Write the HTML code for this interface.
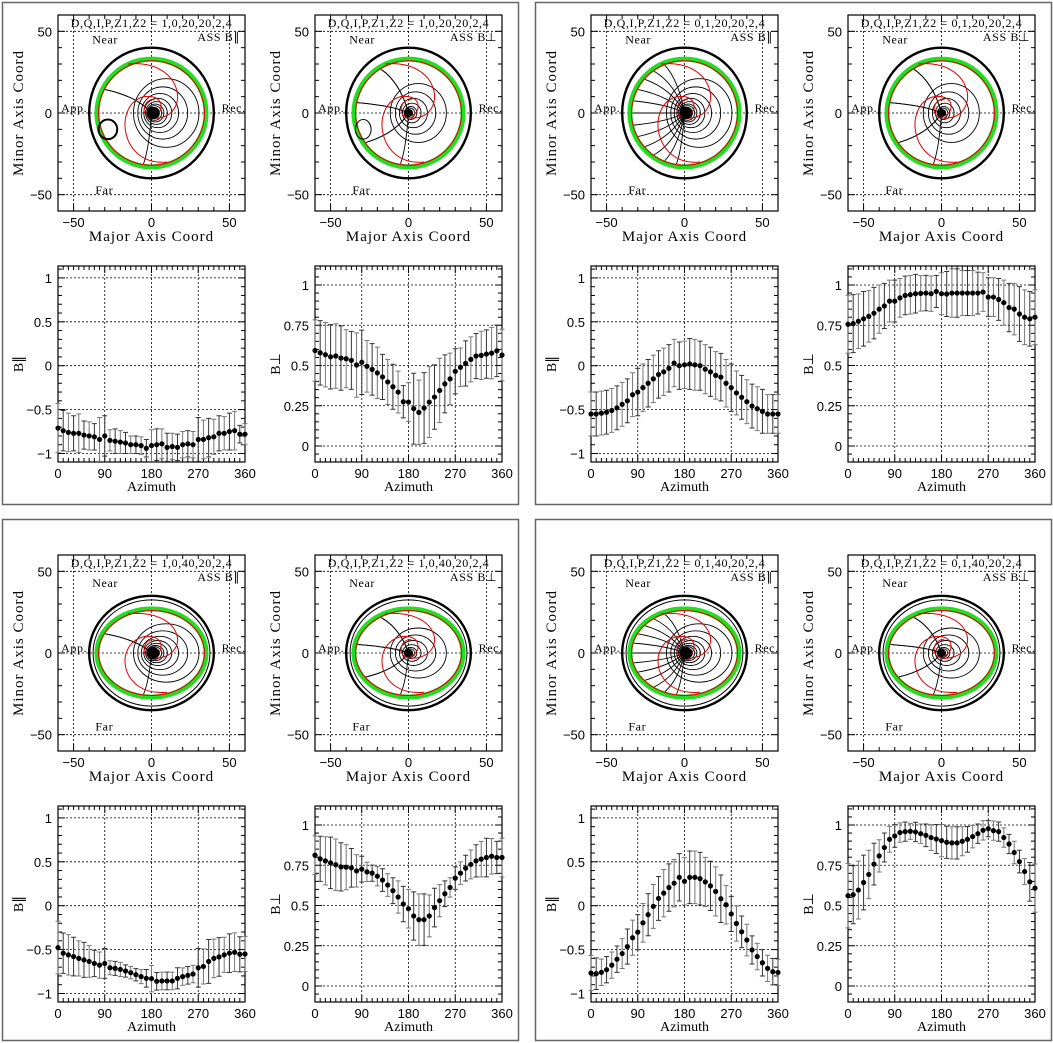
<!DOCTYPE html>
<html><head><meta charset="utf-8">
<style>
html,body{margin:0;padding:0;background:#fff;}
svg{display:block;font-family:"Liberation Sans",sans-serif;}
.tk{font-size:13px;fill:#000;}
.lb{font-family:"Liberation Serif",serif;font-size:14px;fill:#000;}
.lbw{font-family:"Liberation Serif",serif;font-size:15px;fill:#000;letter-spacing:1px;}
.sm{font-family:"Liberation Serif",serif;font-size:12px;fill:#000;}
.hd{font-family:"Liberation Serif",serif;font-size:12px;fill:#000;letter-spacing:0.6px;}
</style></head>
<body>
<svg id="fig" width="1053" height="1043" viewBox="0 0 1053 1043" xmlns="http://www.w3.org/2000/svg"></svg>
<script>
// ---- data ----
const azimuths = [0,10,20,30,40,50,60,70,80,90,100,110,120,130,140,150,160,170,180,190,200,210,220,230,240,250,260,270,280,290,300,310,320,330,340,350,360];
const bparTicks = ["1","0.5","0","-0.5","-1"];
const bparTickVals = [1,0.5,0,-0.5,-1];
const bperpTicks = ["1","0.75","0.5","0.25","0"];
const bperpTickVals = [1,0.75,0.5,0.25,0];
const azTicks = [0,90,180,270,360];
const mapTicks = [-50,0,50];
const headers = ["1,0,20,20,2,4","0,1,20,20,2,4","1,0,40,20,2,4","0,1,40,20,2,4"];

const p1Vals = [-0.71,-0.74,-0.76,-0.77,-0.77,-0.79,-0.80,-0.81,-0.84,-0.80,-0.85,-0.86,-0.87,-0.88,-0.90,-0.90,-0.91,-0.94,-0.91,-0.90,-0.89,-0.93,-0.92,-0.93,-0.90,-0.89,-0.90,-0.84,-0.84,-0.82,-0.81,-0.77,-0.77,-0.75,-0.74,-0.78,-0.78];
const p1Errs = [0.28,0.23,0.22,0.2,0.22,0.16,0.16,0.15,0.25,0.23,0.12,0.14,0.13,0.12,0.1,0.1,0.1,0.1,0.18,0.18,0.17,0.16,0.15,0.15,0.15,0.15,0.15,0.25,0.22,0.22,0.2,0.2,0.19,0.21,0.22,0.1,0.12];
const p2Vals = [0.593,0.579,0.567,0.554,0.559,0.546,0.542,0.532,0.503,0.520,0.495,0.476,0.454,0.429,0.398,0.368,0.335,0.275,0.273,0.232,0.209,0.236,0.273,0.304,0.345,0.386,0.417,0.464,0.489,0.513,0.538,0.559,0.563,0.571,0.577,0.591,0.565];
const p2Errs = [0.19,0.2,0.2,0.2,0.2,0.2,0.18,0.18,0.2,0.2,0.16,0.16,0.16,0.14,0.14,0.14,0.13,0.1,0.12,0.22,0.2,0.22,0.22,0.2,0.2,0.18,0.16,0.14,0.12,0.14,0.14,0.14,0.15,0.15,0.16,0.16,0.16];
const p3Vals = [-0.55,-0.55,-0.54,-0.53,-0.51,-0.48,-0.44,-0.40,-0.33,-0.30,-0.25,-0.20,-0.15,-0.10,-0.07,-0.03,0.03,0.0,0.01,0.02,0.01,0.0,-0.04,-0.07,-0.11,-0.13,-0.2,-0.25,-0.31,-0.36,-0.41,-0.46,-0.49,-0.52,-0.55,-0.55,-0.55];
const p3Errs = [0.25,0.25,0.25,0.25,0.25,0.25,0.25,0.25,0.25,0.27,0.27,0.27,0.27,0.27,0.27,0.27,0.27,0.27,0.27,0.29,0.29,0.28,0.28,0.28,0.27,0.27,0.27,0.27,0.25,0.25,0.25,0.25,0.25,0.25,0.22,0.22,0.22];
const p4Vals = [0.756,0.76,0.775,0.79,0.805,0.825,0.85,0.87,0.90,0.90,0.92,0.935,0.94,0.946,0.948,0.95,0.946,0.96,0.946,0.944,0.95,0.95,0.95,0.95,0.95,0.95,0.956,0.925,0.925,0.91,0.89,0.86,0.85,0.82,0.80,0.79,0.80];
const p4Errs = [0.18,0.18,0.17,0.17,0.16,0.16,0.15,0.14,0.13,0.13,0.12,0.12,0.12,0.12,0.11,0.11,0.11,0.1,0.13,0.14,0.15,0.15,0.14,0.14,0.14,0.13,0.12,0.12,0.12,0.13,0.14,0.15,0.16,0.17,0.17,0.17,0.17];
const p5Vals = [-0.477,-0.541,-0.56,-0.579,-0.60,-0.617,-0.635,-0.658,-0.677,-0.658,-0.707,-0.714,-0.726,-0.744,-0.763,-0.786,-0.808,-0.827,-0.831,-0.861,-0.857,-0.857,-0.857,-0.827,-0.808,-0.793,-0.778,-0.707,-0.692,-0.635,-0.60,-0.583,-0.56,-0.541,-0.53,-0.553,-0.55];
const p5Errs = [0.3,0.23,0.23,0.22,0.2,0.2,0.18,0.15,0.15,0.17,0.08,0.08,0.08,0.07,0.07,0.07,0.08,0.1,0.15,0.1,0.1,0.1,0.1,0.12,0.1,0.1,0.1,0.22,0.2,0.25,0.22,0.22,0.2,0.22,0.22,0.2,0.2];
const p6Vals = [0.812,0.79,0.777,0.765,0.753,0.74,0.738,0.734,0.715,0.726,0.709,0.701,0.682,0.658,0.627,0.592,0.553,0.509,0.48,0.435,0.412,0.412,0.435,0.487,0.53,0.573,0.612,0.67,0.701,0.732,0.755,0.777,0.788,0.798,0.806,0.798,0.798];
const p6Errs = [0.12,0.14,0.15,0.16,0.16,0.15,0.14,0.12,0.1,0.08,0.06,0.05,0.06,0.07,0.07,0.08,0.1,0.11,0.12,0.15,0.16,0.16,0.13,0.12,0.1,0.08,0.06,0.07,0.07,0.08,0.09,0.1,0.11,0.12,0.11,0.1,0.12];
const p7Vals = [-0.767,-0.774,-0.759,-0.729,-0.677,-0.609,-0.545,-0.466,-0.365,-0.301,-0.195,-0.102,-0.008,0.083,0.143,0.207,0.256,0.323,0.278,0.323,0.323,0.308,0.271,0.226,0.162,0.079,0.011,-0.094,-0.203,-0.297,-0.391,-0.504,-0.579,-0.65,-0.714,-0.752,-0.76];
const p7Errs = [0.2,0.18,0.15,0.15,0.15,0.15,0.17,0.2,0.2,0.2,0.22,0.24,0.25,0.25,0.27,0.27,0.27,0.27,0.27,0.3,0.3,0.3,0.28,0.28,0.28,0.27,0.22,0.2,0.2,0.18,0.18,0.16,0.15,0.15,0.15,0.15,0.15];
const p8Vals = [0.561,0.567,0.596,0.643,0.693,0.757,0.808,0.86,0.911,0.932,0.953,0.959,0.961,0.957,0.946,0.936,0.922,0.913,0.903,0.893,0.889,0.889,0.899,0.911,0.928,0.946,0.967,0.977,0.965,0.959,0.922,0.882,0.829,0.773,0.711,0.647,0.608];
const p8Errs = [0.2,0.18,0.18,0.17,0.15,0.13,0.1,0.09,0.08,0.07,0.06,0.06,0.05,0.06,0.06,0.07,0.08,0.09,0.1,0.1,0.1,0.1,0.09,0.08,0.07,0.06,0.06,0.05,0.06,0.06,0.06,0.06,0.07,0.07,0.08,0.12,0.15];

// ---- drawing ----
const NS = "http://www.w3.org/2000/svg";
const svg = document.getElementById('fig');
function mk(tag, attrs, parent, text){
  const e = document.createElementNS(NS, tag);
  for (const k in attrs) e.setAttribute(k, attrs[k]);
  if (text !== undefined) e.textContent = text;
  (parent||svg).appendChild(e);
  return e;
}

const boxes = [[2,2,516,502],[535,2,516,502],[2,519,516,521],[535,519,516,521]];
boxes.forEach((b,i)=>{
  const r = mk('rect',{x:b[0]+0.5,y:b[1]+0.5,width:b[2],height:b[3],fill:'none',stroke:'#666','stroke-width':1.5});
  
  
});

function mapPlot(ox, oy, header, perp, row, idx){
  const g = mk('g',{});
  
  
  const L=ox+58, R=ox+245, T=oy+15, B=oy+211;
  const X = u => L + (u+60)*(R-L)/120;
  const Y = v => T + (60-v)*(B-T)/120;
  const sx=(R-L)/120, sy=(B-T)/120;
  mapTicks.forEach(t=>{
    mk('line',{x1:X(t),x2:X(t),y1:T,y2:B,stroke:'#000','stroke-width':0.8,'stroke-dasharray':'2,2'},g);
    mk('line',{x1:L,x2:R,y1:Y(t),y2:Y(t),stroke:'#000','stroke-width':0.8,'stroke-dasharray':'2,2'},g);
  });
  const flat = row===1;
  const oRy = flat?35:40, gRy = flat?27:33;
  const ob = mk('ellipse',{cx:X(0),cy:Y(0),rx:40*sx,ry:oRy*sy,fill:'none',stroke:'#000','stroke-width':2.4},g);
  
  
  if (flat) mk('ellipse',{cx:X(0),cy:Y(0),rx:37.5*sx,ry:(oRy-2.5)*sy,fill:'none',stroke:'#000','stroke-width':1},g);
  const cg = mk('g',{fill:'none',stroke:'#000','stroke-width':0.9},g);
  
  
  const radii = perp ? [2,3,4,6,9,13,18] : [1.5,2.5,3.5,4.5,5.5,7,9,12,16,21];
  radii.forEach(r=>{
    const cx = perp ? r*0.35 : r*0.45;
    mk('ellipse',{cx:X(cx),cy:Y(0),rx:r*sx,ry:r*sy*(flat?0.85:1)},cg);
  });
  const nrad = (idx===1||idx===5)?3:((idx===3||idx===7)?12:7);
  for(let k=0;k<nrad;k++){
    const a = Math.PI*(0.55+ k/(nrad)*0.9);
    const x2 = 34*Math.cos(a), y2=(flat?26:32)*Math.sin(a)*(k%2?1:-1);
    mk('path',{d:`M${X(0)} ${Y(0)} Q${X(x2*0.3)} ${Y(y2*0.7)} ${X(x2)} ${Y(y2)}`},cg);
  }
  const gr = mk('ellipse',{cx:X(0),cy:Y(0),rx:35*sx,ry:gRy*sy,fill:'none',stroke:'#22dd22','stroke-width':5},g);
  
  
  const rg = mk('g',{fill:'none',stroke:'#e00000','stroke-width':1},g);
  
  
  mk('ellipse',{cx:X(0),cy:Y(0),rx:34*sx,ry:(gRy-1)*sy},rg);
  mk('path',{d:`M${X(-15)} ${Y(gRy-3)} C${X(20)} ${Y(gRy)} ${X(25)} ${Y(0)} ${X(5)} ${Y(-3)} C${X(-10)} ${Y(-5)} ${X(-5)} ${Y(10)} ${X(2)} ${Y(8)}`},rg);
  mk('path',{d:`M${X(10)} ${Y(-gRy+3)} C${X(-20)} ${Y(-gRy)} ${X(-25)} ${Y(5)} ${X(-5)} ${Y(10)} C${X(10)} ${Y(12)} ${X(8)} ${Y(-2)} ${X(0)} ${Y(-2)}`},rg);
  const cd = mk('circle',{cx:X(perp?0:1),cy:Y(0),r:perp?4:6,fill:'#000'},g);
  
  
  if (idx===1){ mk('ellipse',{cx:X(-28),cy:Y(-10),rx:6*sx,ry:6*sy,fill:'none',stroke:'#000','stroke-width':2},g); }
  if (idx===2){ mk('ellipse',{cx:X(-29),cy:Y(-10),rx:5*sx,ry:6*sy,fill:'none',stroke:'#000','stroke-width':1},g); }
  mk('rect',{x:L,y:T,width:R-L,height:B-T,fill:'none',stroke:'#000','stroke-width':1.2},g);
  for(let t=-60;t<=60;t+=10){
    const big = t%50===0;
    mk('line',{x1:X(t),x2:X(t),y1:B,y2:B-(big?7:4),stroke:'#000'},g);
    mk('line',{x1:X(t),x2:X(t),y1:T,y2:T+(big?7:4),stroke:'#000'},g);
    mk('line',{x1:L,x2:L+(big?7:4),y1:Y(t),y2:Y(t),stroke:'#000'},g);
    mk('line',{x1:R,x2:R-(big?7:4),y1:Y(t),y2:Y(t),stroke:'#000'},g);
  }
  mapTicks.forEach(t=>{
    const tx = mk('text',{x:X(t),y:B+16,'text-anchor':'middle',class:'tk'},g,t<0?'\u2212'+(-t):String(t));
    
    
    const ty = mk('text',{x:L-6,y:Y(t)+5,'text-anchor':'end',class:'tk'},g,t<0?'\u2212'+(-t):String(t));
    
    
  });
  const xt = mk('text',{x:(L+R)/2,y:B+30,'text-anchor':'middle',class:'lbw'},g,'Major Axis Coord');
  
  
  const yt = mk('text',{x:0,y:0,'text-anchor':'middle',class:'lbw',transform:`translate(${ox+23},${(T+B)/2}) rotate(-90)`},g,'Minor Axis Coord');
  
  
  const h = mk('text',{x:(L+R)/2,y:T+12,'text-anchor':'middle',class:'hd'},g,'D,Q,I,P,Z1,Z2 = '+header);
  
  
  const ass = mk('text',{x:R-5,y:T+26,'text-anchor':'end',class:'hd'},g,perp?'ASS B\u22A5':'ASS B\u2225');
  
  
  [['Near',-38,flat?43:45],['Far',-36,flat?-45:-47],['App.',-58,3],['Rec.',45,3]].forEach(a=>{
    const t = mk('text',{x:X(a[1]),y:Y(a[2])+4,class:'hd'},g,a[0]);
    
    
  });
}

function azPlot(ox, oy, perp, vals, errs, idx){
  const g = mk('g',{});
  
  
  const L=ox+58, R=ox+245, T=oy+266, B=oy+462;
  const X = a => L + a*(R-L)/360;
  const Y = perp ? (v => oy+446-161*v) : (v => oy+365.7-87.8*v);
  const tv = perp?bperpTickVals:bparTickVals, tl = perp?bperpTicks:bparTicks;
  azTicks.forEach(t=>{ if(t>0&&t<360) mk('line',{x1:X(t),x2:X(t),y1:T,y2:B,stroke:'#000','stroke-width':0.8,'stroke-dasharray':'2,2'},g); });
  tv.forEach(v=>mk('line',{x1:L,x2:R,y1:Y(v),y2:Y(v),stroke:'#000','stroke-width':0.8,'stroke-dasharray':'2,2'},g));
  mk('rect',{x:L,y:T,width:R-L,height:B-T,fill:'none',stroke:'#000','stroke-width':1.2},g);
  for(let a=0;a<=360;a+=10){
    const big=a%90===0;
    mk('line',{x1:X(a),x2:X(a),y1:B,y2:B-(big?7:4),stroke:'#000'},g);
    mk('line',{x1:X(a),x2:X(a),y1:T,y2:T+(big?7:4),stroke:'#000'},g);
  }
  const step = perp?0.05:0.1;
  for(let v=perp?-0.1:-1.1; v<=1.12; v+=step){
    const big = Math.abs(v/(perp?0.25:0.5)-Math.round(v/(perp?0.25:0.5)))<1e-6;
    const y=Y(v); if(y<T||y>B) continue;
    mk('line',{x1:L,x2:L+(big?7:4),y1:y,y2:y,stroke:'#000'},g);
    mk('line',{x1:R,x2:R-(big?7:4),y1:y,y2:y,stroke:'#000'},g);
  }
  azTicks.forEach(t=>{
    const tx = mk('text',{x:X(t),y:B+16,'text-anchor':'middle',class:'tk'},g,String(t));
    
    
  });
  tv.forEach((v,i)=>{
    const s = tl[i].replace('-','\u2212');
    const ty = mk('text',{x:L-6,y:Y(v)+5,'text-anchor':'end',class:'tk'},g,s);
    
    
  });
  const xt = mk('text',{x:(L+R)/2,y:B+29,'text-anchor':'middle',class:'lb'},g,'Azimuth');
  
  
  const yt = mk('text',{x:0,y:0,'text-anchor':'middle',class:'lb',transform:`translate(${ox+23},${(T+B)/2}) rotate(-90)`},g,perp?'B\u22A5':'B\u2225');
  
  
  azimuths.forEach((a,i)=>{
    const x=X(a), v=vals[i], e=errs[i];
    const col = i%2? '#333':'#777';
    const y1=Math.max(T,Y(v+e)), y2=Math.min(B,Y(v-e));
    const eb = mk('path',{d:`M${x} ${y1}V${y2}M${x-2.5} ${y1}H${x+2.5}M${x-2.5} ${y2}H${x+2.5}`,stroke:col,'stroke-width':1,fill:'none'},g);
    
    
    const p = mk('circle',{cx:x,cy:Y(v),r:2.6,fill:'#000'},g);
    
    
  });
}

const offs = [[0,0],[533,0],[0,540],[533,540]];
const series = [[p1Vals,p1Errs,p2Vals,p2Errs],[p3Vals,p3Errs,p4Vals,p4Errs],[p5Vals,p5Errs,p6Vals,p6Errs],[p7Vals,p7Errs,p8Vals,p8Errs]];
offs.forEach((o,i)=>{
  const row = i<2?0:1;
  mapPlot(o[0], o[1], headers[i], false, row, 2*i+1);
  mapPlot(o[0]+257, o[1], headers[i], true, row, 2*i+2);
  azPlot(o[0], o[1], false, series[i][0], series[i][1], 2*i+1);
  azPlot(o[0]+257, o[1], true, series[i][2], series[i][3], 2*i+2);
});
</script>
</body></html>
